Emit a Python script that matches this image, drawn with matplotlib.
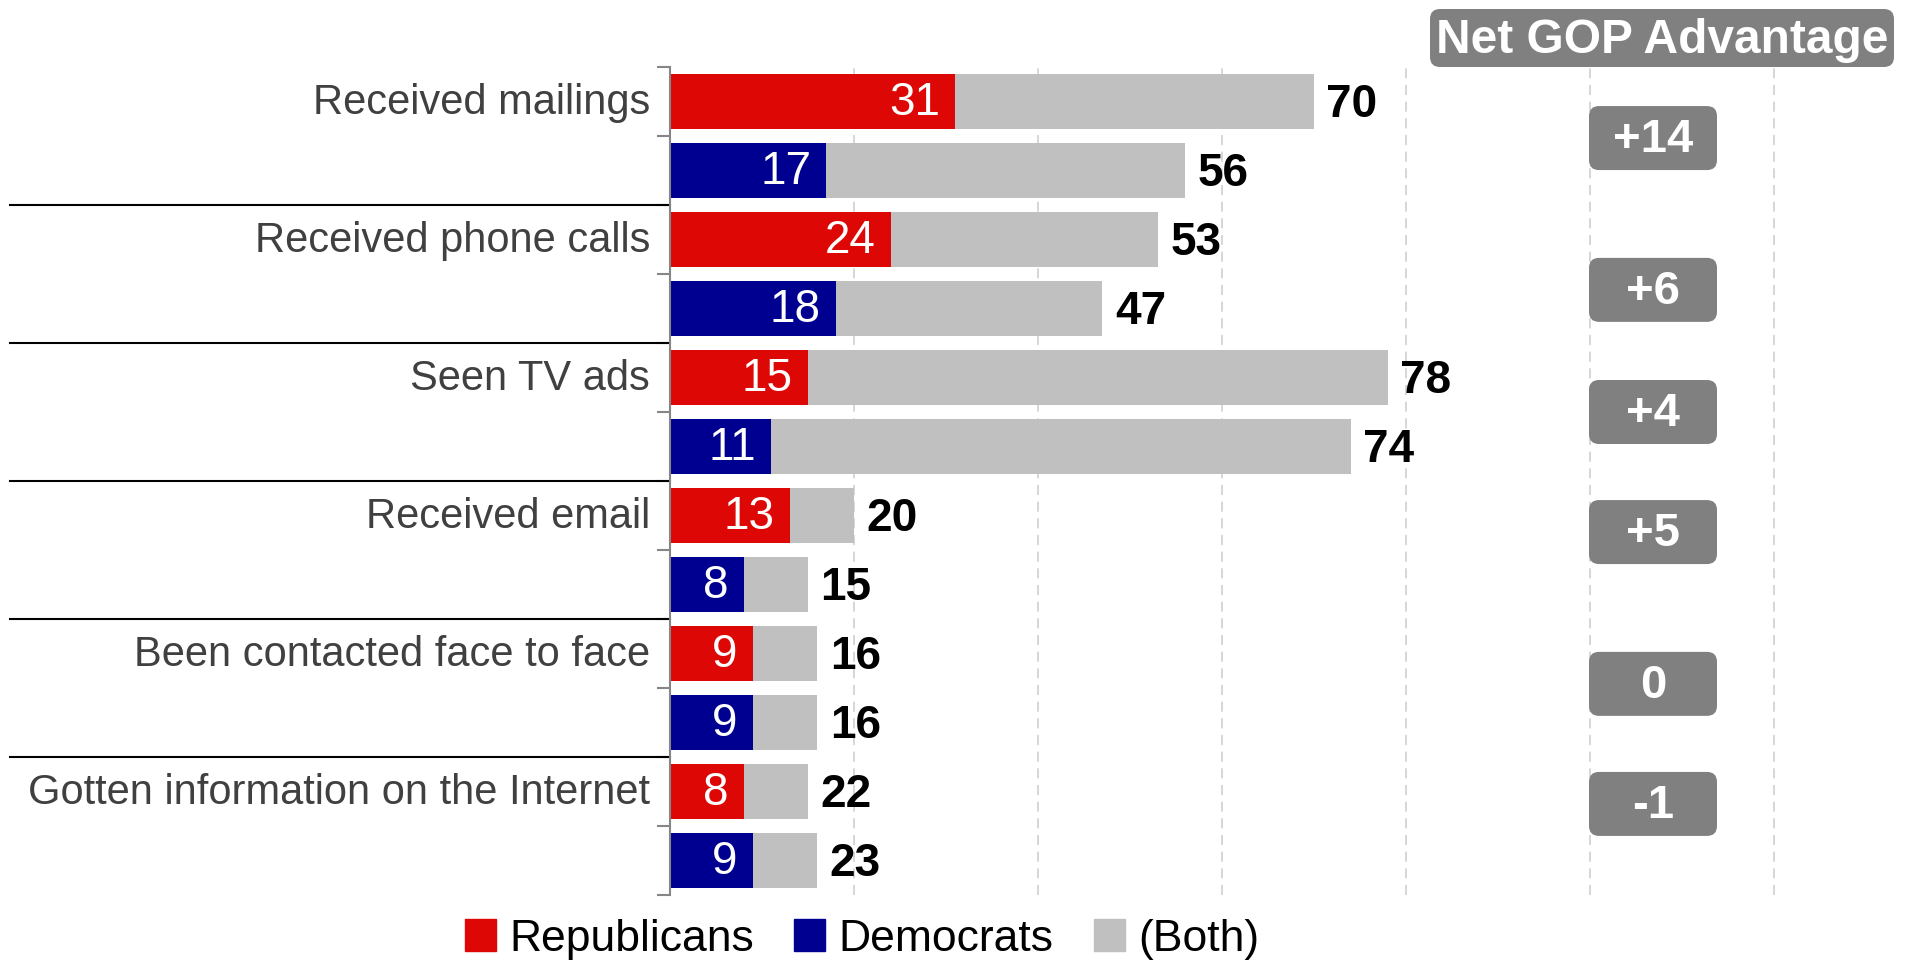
import matplotlib
matplotlib.use('Agg')
import matplotlib.pyplot as plt
import matplotlib.transforms as mtransforms
from matplotlib.patches import FancyBboxPatch, Patch
import numpy as np

plt.rcParams['font.family'] = ['Liberation Sans', 'DejaVu Sans']

# data
categories = ['Received mailings', 'Received phone calls', 'Seen TV ads',
              'Received email', 'Been contacted face to face',
              'Gotten information on the Internet']
rep_only = [31, 24, 15, 13, 9, 8]
dem_only = [17, 18, 11, 8, 9, 9]
# printed totals
rep_total = [70, 53, 78, 20, 16, 22]
dem_total = [56, 47, 74, 15, 16, 23]
# drawn bar lengths (the Internet bars in the source are shorter than their labels)
rep_bar = [70, 53, 78, 20, 16, 15]
dem_bar = [56, 47, 74, 15, 16, 16]
legend_labels = ['Republicans', 'Democrats', '(Both)']

RED = '#dd0806'
BLUE = '#000090'
GRAY = '#c0c0c0'
BOX = '#808080'
AXIS = '#868686'

W, H = 1912, 962
fig = plt.figure(figsize=(W / 100, H / 100), dpi=100)
ax = fig.add_axes([670 / W, 1 - 896 / H, 1 - 670 / W, (896 - 68) / H])

n = len(categories)
y_rep = np.arange(n) * 2
y_dem = y_rep + 1

for ys, own, bar, tot, col in [(y_rep, rep_only, rep_bar, rep_total, RED),
                               (y_dem, dem_only, dem_bar, dem_total, BLUE)]:
    own = np.array(own)
    bar = np.array(bar)
    ax.barh(ys, own, height=0.8, color=col, zorder=2)
    ax.barh(ys, bar - own, left=own, height=0.8, color=GRAY, zorder=2)
    for yy, o, b, t in zip(ys, own, bar, tot):
        ax.annotate(str(o), (o, yy), xytext=(-11, 0), textcoords='offset points',
                    ha='right', va='center', color='white', fontsize=33)
        ax.annotate(str(t), (b, yy), xytext=(9, -2), textcoords='offset points',
                    ha='left', va='center', color='black', fontsize=33,
                    fontweight='bold')

ax.set_ylim(2 * n - 0.5, -0.5)
ax.set_xlim(0, 135)
ax.set_yticks(np.arange(-0.5, 2 * n, 1))
ax.set_yticklabels([])
ax.tick_params(axis='y', length=9.5, width=1.5, color=AXIS)
ax.set_xticks(np.arange(20, 121, 20))
ax.tick_params(axis='x', length=0, labelbottom=False)
ax.grid(axis='x', color='#d0d0d0', linestyle=(0, (6, 4)), linewidth=1.2)
ax.set_axisbelow(True)
for s in ['top', 'right', 'bottom']:
    ax.spines[s].set_visible(False)
ax.spines['left'].set_color(AXIS)
ax.spines['left'].set_linewidth(1.5)

# category labels and group separators
trans = mtransforms.blended_transform_factory(ax.transAxes, ax.transData)
for yy, c in zip(y_rep, categories):
    ax.text(-0.016, yy, c, transform=trans, ha='right', va='center',
            fontsize=30, color='#404040')
for b in y_rep[1:] - 0.5:
    ax.plot([-0.531, 0], [b, b], transform=trans, color='black', lw=1.5,
            clip_on=False)

# Net GOP advantage column
net_gop = [r - d for r, d in zip(rep_only, dem_only)]
box_shift = [0.03, 0.23, 0.0, -0.26, -0.06, -0.32]  # slot units, as in the source
bw, bh = 1.28, 0.64
cx = 16.53
for yy, v, sh in zip(y_rep, net_gop, box_shift):
    cy = ax.transData.transform((0, yy + 0.5 + sh))[1] / fig.dpi
    fig.add_artist(FancyBboxPatch((cx - bw / 2, cy - bh / 2), bw, bh,
                                  boxstyle='round,pad=0,rounding_size=0.1',
                                  transform=fig.dpi_scale_trans, fc=BOX, ec='none'))
    lab = f'+{v}' if v > 0 else str(v)
    fig.text(cx, cy - 0.01, lab, transform=fig.dpi_scale_trans, ha='center',
             va='center', color='white', fontsize=34, fontweight='bold')

fig.add_artist(FancyBboxPatch((14.30, 8.94), 4.64, 0.58,
                              boxstyle='round,pad=0,rounding_size=0.1',
                              transform=fig.dpi_scale_trans, fc=BOX, ec='none'))
fig.text(16.62, 9.21, 'Net GOP Advantage', transform=fig.dpi_scale_trans,
         ha='center', va='center', color='white', fontsize=34.5, fontweight='bold')

handles = [Patch(color=c, label=l) for c, l in zip([RED, BLUE, GRAY], legend_labels)]
fig.legend(handles=handles, loc='center', bbox_to_anchor=(862 / W, 1 - 940 / H),
           ncol=3, frameon=False, fontsize=32, handlelength=0.7, handleheight=0.7,
           handletextpad=0.3, columnspacing=0.9, borderpad=0, borderaxespad=0)

fig.savefig('out.png', dpi=100)
